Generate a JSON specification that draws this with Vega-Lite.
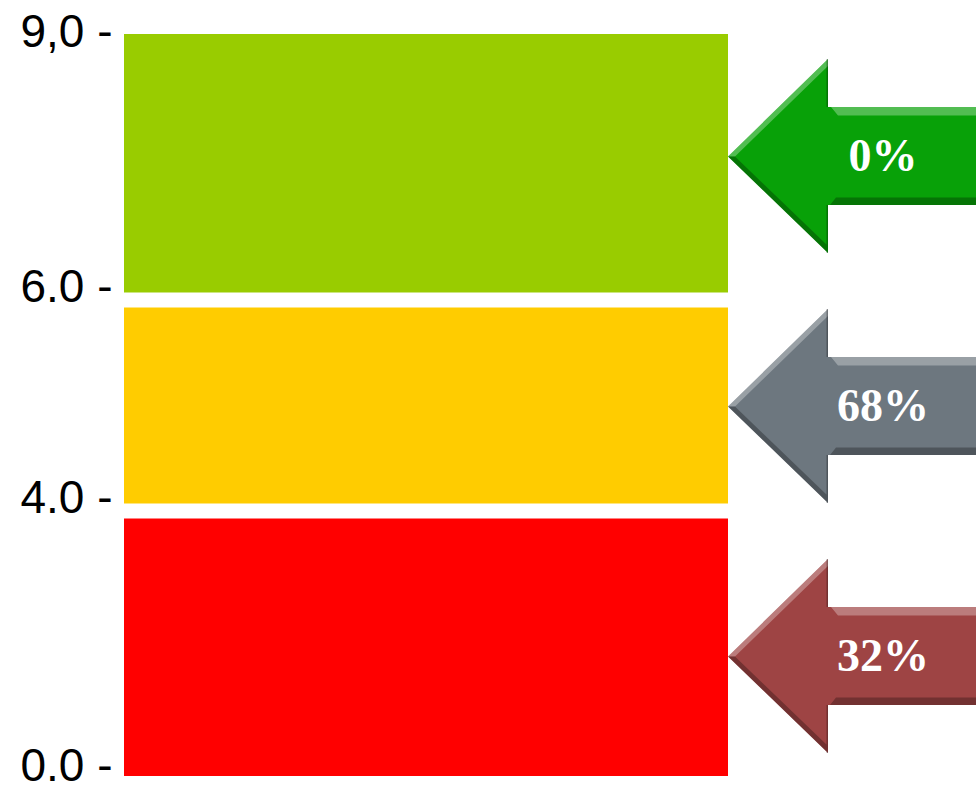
{
  "$schema": "https://vega.github.io/schema/vega-lite/v6.json",
  "padding": {"left": 19, "top": 0, "right": 0, "bottom": 0},
  "background": "white",
  "config": {"view": {"stroke": null}, "concat": {"spacing": 0}},
  "spacing": 0,
  "bounds": "flush",
  "datasets": {
    "bands": [
      {"level": "high", "lo": 6, "hi": 9, "share": 0},
      {"level": "mid", "lo": 4, "hi": 6, "share": 0.68},
      {"level": "low", "lo": 0, "hi": 4, "share": 0.32}
    ]
  },
  "resolve": {"scale": {"color": "independent", "y": "independent"}},
  "hconcat": [
    {
      "width": 604,
      "height": 790,
      "data": {"name": "bands"},
      "layer": [
        {
          "mark": {"type": "rect"},
          "encoding": {
            "y": {
              "field": "hi",
              "type": "quantitative",
              "scale": {"domain": [0, 4, 6, 9], "range": [776, 511, 300, 34], "nice": false, "zero": false},
              "axis": {
                "values": [0, 4, 6, 9],
                "ticks": false,
                "domain": false,
                "grid": false,
                "title": null,
                "labelFont": "Liberation Sans",
                "labelFontSize": 46,
                "labelColor": "black",
                "labelPadding": 12,
                "labelBaseline": "alphabetic",
                "labelFlush": false,
                "labelOverlap": false,
                "labelBound": false,
                "labelOffset": {"condition": [{"test": "datum.value == 9", "value": 12}, {"test": "datum.value == 0", "value": 4}], "value": 1.5},
                "labelExpr": "datum.value == 9 ? '9,0 -' : format(datum.value, '.1f') + ' -'"
              }
            },
            "y2": {"field": "lo"},
            "color": {
              "field": "level",
              "type": "nominal",
              "scale": {"domain": ["high", "mid", "low"], "range": ["#99CC00", "#FFCC00", "#FF0000"]},
              "legend": null
            }
          }
        },
        {
          "transform": [{"filter": "datum.lo > 0"}],
          "mark": {"type": "rule", "color": "white", "strokeWidth": 15},
          "encoding": {"y": {"field": "lo", "type": "quantitative"}}
        }
      ]
    },
    {
      "width": 200,
      "height": 790,
      "data": {"name": "bands"},
      "encoding": {
        "y": {
          "field": "level",
          "type": "nominal",
          "scale": {"type": "point", "domain": ["high", "mid", "low"], "range": [156.5, 656.5], "padding": 0},
          "axis": null
        }
      },
      "layer": [
        {
          "mark": {
            "type": "point",
            "filled": true,
            "opacity": 1,
            "size": 40000,
            "shape": "M -1 0 L 0 -0.975 L 0 -0.495 L 2 -0.495 L 2 0.485 L 0 0.485 L 0 0.965 Z"
          },
          "encoding": {
            "color": {
              "field": "level",
              "type": "nominal",
              "scale": {"domain": ["high", "mid", "low"], "range": ["#08A108", "#6D777F", "#9E4444"]},
              "legend": null
            }
          }
        },
        {
          "mark": {
            "type": "point",
            "filled": true,
            "opacity": 0.3,
            "color": "white",
            "size": 40000,
            "shape": "M 0.03 -0.495 L 2 -0.495 L 2 -0.41 L 0.1 -0.41 Z M -1 0 L 0 -0.975 L 0 -0.905 L -0.93 0 Z"
          }
        },
        {
          "mark": {
            "type": "point",
            "filled": true,
            "opacity": 0.28,
            "color": "black",
            "size": 40000,
            "shape": "M 0.08 0.41 L 2 0.41 L 2 0.485 L 0.02 0.485 Z M -1 0 L -0.93 0 L 0 0.895 L 0 0.965 Z M -0.015 -0.975 L 0 -0.975 L 0 -0.495 L -0.015 -0.495 Z M -0.015 0.485 L 0 0.485 L 0 0.965 L -0.015 0.965 Z"
          }
        },
        {
          "mark": {
            "type": "text",
            "font": "Liberation Serif",
            "fontWeight": "bold",
            "fontSize": 46,
            "color": "white",
            "align": "center",
            "baseline": "middle",
            "dx": 55
          },
          "encoding": {"text": {"field": "share", "type": "quantitative", "format": ".0%"}}
        }
      ]
    }
  ]
}
